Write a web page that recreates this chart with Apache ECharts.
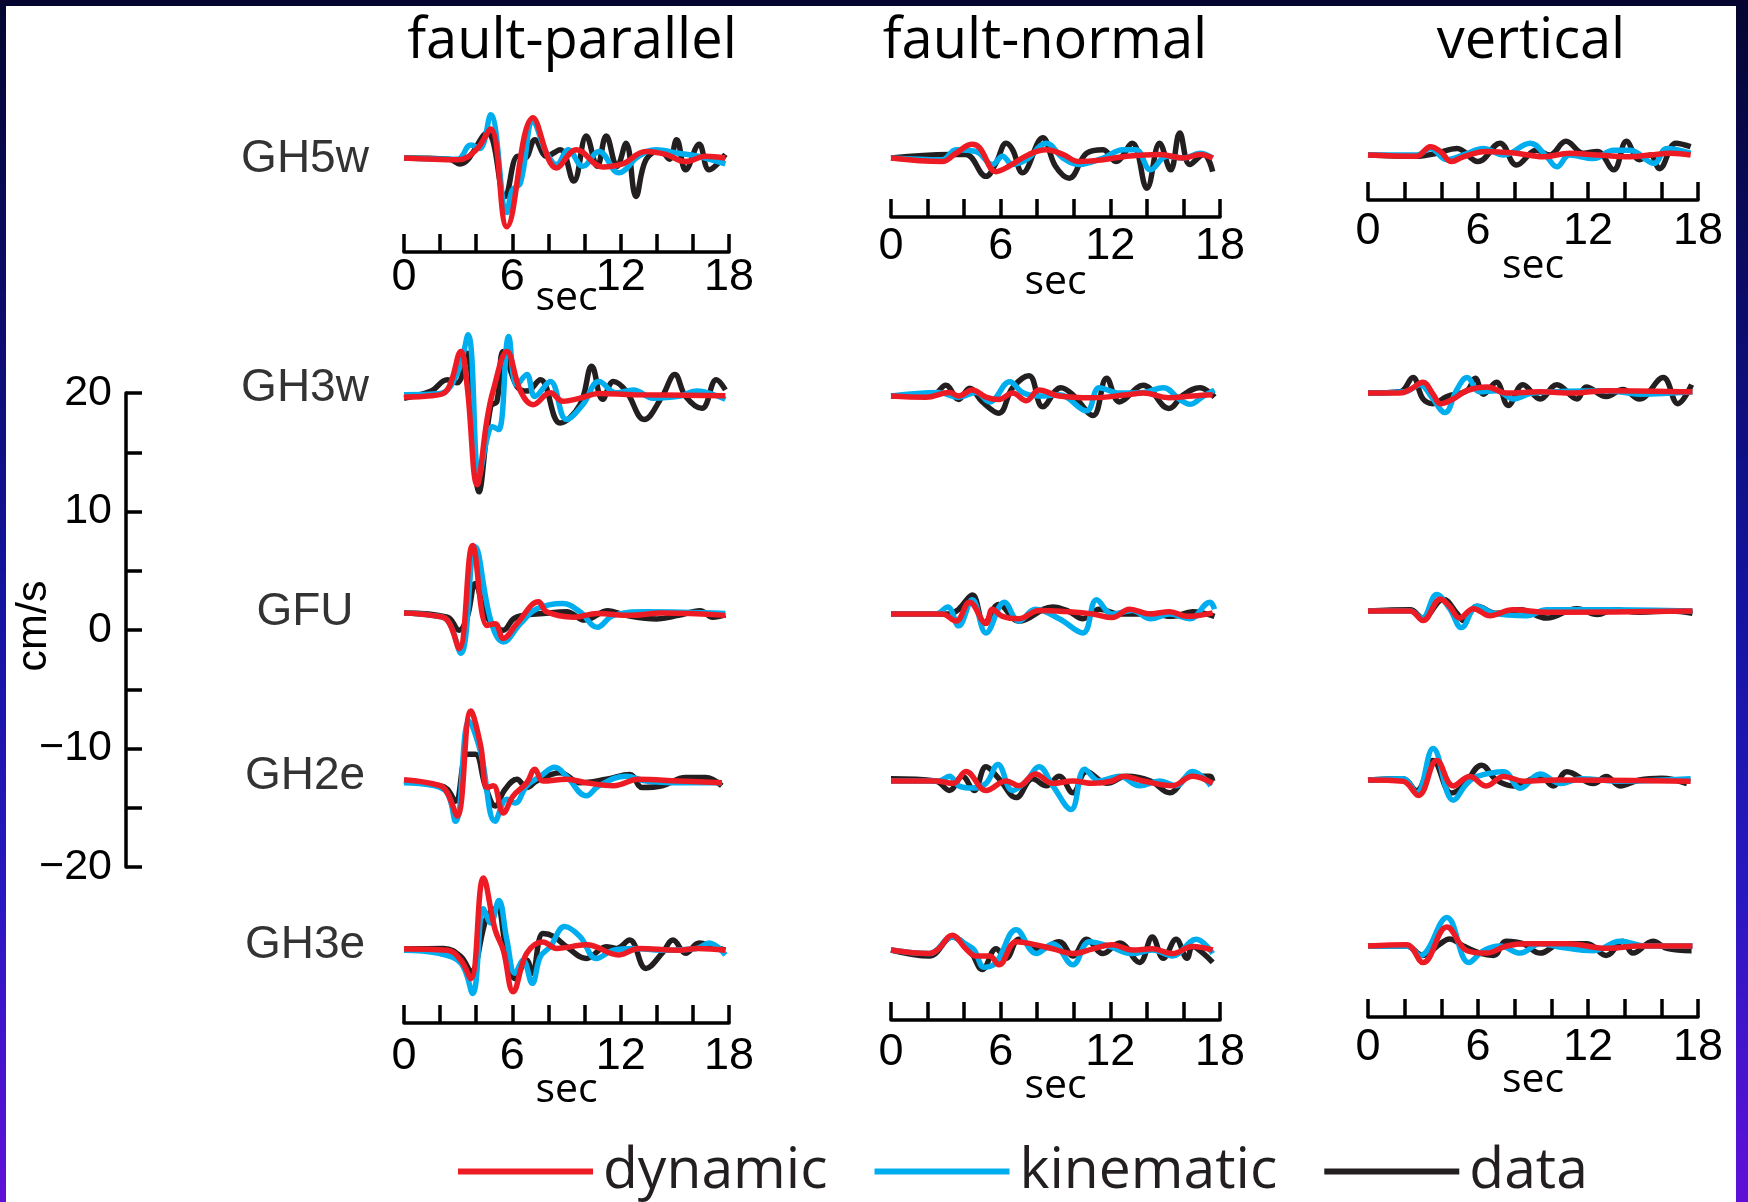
<!DOCTYPE html>
<html>
<head>
<meta charset="utf-8">
<script src="https://cdn.jsdelivr.net/npm/echarts@6/dist/echarts.min.js"></script>
<style>
html, body { margin: 0; padding: 0; }
#frame { position: relative; width: 1748px; height: 1202px; overflow: hidden;
  background: linear-gradient(180deg, #050530 0%, #0c0c6a 25%, #1414a0 50%, #2a18c0 75%, #6010d8 100%); }
#paper { position: absolute; left: 6px; top: 6px; width: 1730px; height: 1196px; background: #fff; }
#chart { position: absolute; left: 0; top: 0; width: 1748px; height: 1202px; }
</style>
</head>
<body>
<div id="frame"><div id="paper"></div><div id="chart"></div></div>
<script>
var stations = ['GH5w', 'GH3w', 'GFU', 'GH2e', 'GH3e']
var components = ['fault-parallel', 'fault-normal', 'vertical']
var secTicks = [0, 6, 12, 18]
var scaleTicks = [-20, -10, 0, 10, 20]

// velocity traces, [sec, cm/s] relative to each station's baseline
// fault-parallel
var fpGH5wDyn = [[0,0],[3,-0.15],[4,0.7],[4.8,2.45],[5.7,-5.8],[7.15,3.4],[8.45,-0.85],[9.55,0.7],[11,-0.75],[12.1,-0.5],[13.4,0.55],[14.5,0.3],[15.6,-0.3],[16.7,0.15],[17.8,0]]
var fpGH5wKin = [[0,0],[2.95,-0.1],[3.7,1.1],[4.2,0.8],[4.8,3.65],[5.7,-4.6],[6.0,-2.7],[6.45,-2.1],[7.15,3.1],[7.9,0.4],[8.45,-0.55],[9.1,0.7],[9.9,-0.7],[10.8,0.55],[11.9,-1.25],[13,0.15],[13.95,0.7],[15.2,0.4],[16.3,0.15],[17.8,-0.5]]
var fpGH5wDat = [[0,0],[2.5,-0.1],[3.1,-0.5],[4.6,2.1],[5.6,-3.25],[6.3,0.15],[6.7,0],[7.25,1.55],[7.9,0.15],[8.65,0.7],[9.4,-1.95],[10.1,1.85],[10.7,-0.7],[11.2,1.85],[11.8,-0.7],[12.3,1.25],[12.85,-3.25],[13.4,-0.15],[14.2,0.6],[14.7,-0.1],[15.1,1.55],[15.6,-1.0],[16.35,1.15],[16.9,-1.0],[17.8,0.3]]
var fpGH3wDyn = [[0,0],[1.5,0.1],[2.4,0.6],[3.15,3.85],[3.5,0.9],[4.05,-7.4],[4.6,-1.9],[4.95,0.6],[5.7,3.85],[6.45,0.5],[7.15,-0.65],[8.1,0.35],[8.8,-0.35],[9.75,-0.1],[10.8,0.3],[12.7,0.2],[17.8,0.1]]
var fpGH3wKin = [[0,0.2],[2,0.3],[2.95,2],[3.55,5.25],[4.15,-6.7],[4.6,-3.5],[4.9,-2.5],[5.25,-2.75],[5.8,5.1],[6.25,1.0],[6.8,1.9],[7.25,0.05],[8.1,1.3],[9,-1.9],[9.9,-0.65],[10.8,1.3],[11.75,0.35],[12.7,0.6],[13.8,-0.1],[15.2,0.05],[16.2,0.5],[17.8,-0.2]]
var fpGH3wDat = [[0,-0.1],[1.5,0.5],[2.4,1.45],[2.95,1.2],[3.5,3.7],[4.15,-8.0],[4.8,-0.8],[5.15,-0.35],[5.5,3.85],[6.25,0.9],[6.8,0.5],[7.55,1.45],[8.65,-2.2],[9.75,-0.65],[10.4,2.6],[11,-0.2],[11.6,1.3],[12.3,0.5],[13.3,-1.9],[14.3,0.05],[15,1.9],[15.6,0.05],[16.5,-0.95],[17.3,1.45],[17.8,0.6]]
var fpGFUDyn = [[0,0],[1.5,-0.2],[2.4,-0.6],[3.05,-3.0],[3.8,5.7],[4.6,-1.05],[5.05,-0.9],[5.5,-2.15],[6.25,-0.9],[7.45,0.95],[7.9,0.1],[9.4,-0.35],[10.7,-0.05],[12.5,-0.2],[14.3,0],[17.8,-0.2]]
var fpGFUKin = [[0,0],[1.5,-0.2],[2.4,-0.6],[3.15,-3.4],[3.95,5.6],[4.8,-0.6],[5.5,-2.45],[6.45,-0.9],[7.35,0.35],[8.8,0.8],[9.75,0.1],[10.7,-1.2],[11.6,-0.2],[13.4,0.1],[17.8,-0.05]]
var fpGFUDat = [[0,0],[2.4,-0.35],[3.05,-1.45],[3.5,-0.35],[3.95,2.5],[4.6,-0.35],[5.5,-1.45],[6.05,-0.5],[6.6,-0.2],[7.7,-0.05],[9,0.1],[10,-0.6],[11.3,0.2],[12.3,-0.2],[14,-0.5],[15.2,-0.2],[16.4,0.2],[17.1,-0.35],[17.8,-0.15]]
var fpGH2eDyn = [[0,0.1],[2,-0.4],[2.4,-1.0],[2.95,-2.95],[3.7,5.9],[4.25,2.95],[4.6,-0.55],[4.95,-0.4],[5.5,-2.7],[6.05,-1.25],[6.8,-0.15],[7.25,1.0],[7.7,0],[9,0.15],[10.1,-0.15],[11.6,-0.4],[13,0.15],[15.2,0],[17.6,-0.15]]
var fpGH2eKin = [[0,-0.15],[2.2,-0.7],[2.85,-3.4],[3.6,5.05],[4.25,2.4],[5.05,-3.4],[5.7,-1.55],[6.15,-1.85],[6.8,-0.4],[7.55,0.4],[8.35,1.15],[9,0.4],[10.1,-1.25],[10.8,-0.4],[12.3,0.4],[13.4,0],[15.2,-0.15],[17.6,-0.15]]
var fpGH2eDat = [[0,0],[2,-0.4],[2.4,-0.7],[2.85,-1.7],[3.5,2.25],[3.95,2.25],[4.5,-0.4],[5.05,-2.1],[5.6,-0.7],[6.25,0.15],[6.8,-0.55],[7.35,0],[8.65,0.7],[9.75,-0.15],[11.2,0.15],[12.5,0.55],[13.2,-0.55],[14.3,-0.4],[15.6,0.3],[16.7,0.3],[17.6,-0.4]]
var fpGH3eDyn = [[0,0],[2.4,-0.1],[3.15,-0.95],[3.7,-2.5],[4.4,6.0],[5.05,1.6],[5.5,-0.1],[6.05,-3.6],[6.8,-0.35],[7.7,0.6],[8.45,0.05],[10.1,0.35],[11.9,-0.5],[13,0.05],[15.2,-0.1],[16.3,0.05],[17.8,-0.1]]
var fpGH3eKin = [[0,-0.1],[1.85,-0.35],[3.15,-1.2],[3.8,-3.75],[4.4,3.4],[4.8,2.2],[5.25,4.1],[5.7,0.75],[6.15,-2.05],[6.6,-0.95],[7.1,-2.9],[7.55,-0.65],[8.1,0.2],[8.9,1.9],[9.75,1.05],[10.65,-0.8],[11.6,-0.1],[12.7,0.05],[14.3,-0.1],[16.2,0.05],[16.9,0.5],[17.8,-0.5]]
var fpGH3eDat = [[0,0],[2.2,0.05],[3.15,-0.65],[3.7,-1.9],[4.6,2.75],[5.15,3.45],[5.6,0.5],[6.15,-2.5],[6.8,-0.95],[7.1,-2.05],[7.7,1.3],[8.3,1.05],[9,0.2],[10.1,-0.8],[11.2,0.2],[11.75,0.05],[12.5,0.75],[13.4,-1.65],[14.3,-0.35],[14.9,0.75],[15.6,-0.35],[16.35,0.5],[17.1,0.2],[17.8,-0.1]]
// fault-normal
var fnGH5wDyn = [[0,0],[2.8,-0.3],[3.55,0.4],[4.45,1.15],[4.85,0.85],[5.75,-1.15],[6.45,-0.7],[7.55,0.3],[8.5,0.7],[9.4,0.3],[10.3,-0.3],[11.6,-0.15],[12.9,0.15],[14.7,0.3],[16,0],[16.9,0.3],[17.6,0]]
var fnGH5wKin = [[0,0],[2.8,-0.15],[3.55,0.7],[4.65,0.55],[5.55,-0.55],[6.1,0.15],[6.65,-0.55],[7.4,-0.15],[8.5,1.25],[9.4,0],[10.3,-0.55],[11.6,0],[12.7,0.7],[13.4,0.7],[14.2,-1.0],[15.1,0.15],[16,0],[16.9,0.4],[17.6,0]]
var fnGH5wDat = [[0,0],[3.2,0.3],[4.1,0.3],[5.2,-1.55],[5.75,-0.4],[6.3,1.25],[6.65,0.7],[7.2,-1.25],[8.3,1.7],[9,-0.7],[9.75,-1.7],[10.7,0.4],[11.6,0.7],[12.3,-0.3],[13.2,1.25],[14,-2.55],[14.7,1.25],[15.3,-1.0],[15.8,2.1],[16.35,-0.55],[17.1,0.3],[17.6,-1.15]]
var fnGH3wDyn = [[0,0],[1.9,-0.1],[3.2,0.3],[3.7,0],[4.45,0.5],[5.2,-0.1],[5.9,-0.3],[6.65,0.25],[7.4,-0.4],[8.1,0.5],[9.2,0],[11,-0.15],[12.9,0.1],[13.8,0.25],[15.2,-0.15],[16.5,0],[17.6,0.1]]
var fnGH3wKin = [[0,0],[2.6,0.3],[3.7,-0.1],[4.65,0.3],[5.4,-0.5],[6.5,1.2],[7.2,0.3],[8.1,0],[9.2,0.1],[10.7,-1.25],[11.4,0.7],[12.5,0.25],[13.8,0.3],[14.9,0.7],[15.8,-0.3],[16.35,-0.7],[17.1,0],[17.7,0.5]]
var fnGH3wDat = [[0,0],[2.3,0.1],[3,0.9],[3.7,-0.3],[4.3,0.65],[5,-0.5],[5.9,-1.45],[6.65,0.7],[7.55,1.7],[8.3,-0.9],[9.3,0.7],[9.95,0.1],[11.05,-1.65],[11.8,1.5],[12.5,-0.5],[13.8,0.9],[15.2,-1.05],[16,0.1],[16.9,0.7],[17.7,-0.1]]
var fnGFUDyn = [[0,0],[2.8,0],[3.55,-0.6],[4.3,1.0],[5.2,-0.8],[5.55,0.4],[6.1,-0.2],[7,-0.4],[8.1,0.3],[9.6,0.2],[11.05,0],[12.1,-0.3],[13.05,0.4],[14.2,0],[15.25,0.2],[16.2,-0.2],[17.6,0.1]]
var fnGFUKin = [[0,0],[2.45,0],[3.1,0.6],[3.7,-1.0],[4.45,1.2],[5.2,-1.6],[6.2,1.0],[7,-0.6],[7.9,0.4],[9.2,-0.4],[10.5,-1.6],[11.25,1.2],[12.1,0],[13.2,0.3],[14.2,-0.4],[15.25,0],[16.35,-0.4],[17.45,1.0],[17.7,0.4]]
var fnGFUDat = [[0,0],[3.2,0],[3.7,0.4],[4.45,1.6],[5.1,-0.8],[5.9,0.8],[7,-0.6],[8.85,0.6],[9.75,0.2],[10.5,-0.4],[11.4,0.4],[12.5,0],[14.3,0],[15.4,-0.2],[16.5,0.2],[17.7,-0.2]]
var fnGH2eDyn = [[0,0],[2.45,0],[3.4,-0.2],[4.1,0.8],[5.2,-0.8],[6.3,0],[7,-0.4],[7.9,0.6],[8.85,-0.2],[9.95,0],[11.05,-0.2],[12.1,0],[12.7,0.4],[13.8,0],[15.4,-0.4],[16.5,0.4],[17.6,-0.2]]
var fnGH2eKin = [[0,0],[2.6,0],[3.2,0.4],[3.7,-0.4],[4.45,-0.6],[5.2,-0.2],[5.85,1.4],[6.65,-0.8],[7.4,0],[8.1,1.2],[8.85,-0.4],[9.85,-2.4],[10.6,1.0],[11.4,0],[12.5,0.4],[13.6,-0.4],[14.7,0],[15.6,-0.4],[16.5,0.8],[17.5,-0.4]]
var fnGH2eDat = [[0,0.2],[2.45,0],[3.2,-0.8],[3.9,0.4],[4.55,-0.8],[5.2,1.2],[5.9,0.2],[6.85,-1.4],[7.75,0.2],[8.5,-0.4],[9.2,0.4],[9.95,-1.0],[10.7,0.8],[11.8,-0.2],[12.9,0.4],[14.2,0],[15.25,-1.0],[16.35,0.4],[17.45,0.4],[17.6,0]]
var fnGH3eDyn = [[0,0],[2.1,-0.3],[2.6,0.1],[3.35,1.25],[4.1,0.1],[4.65,-0.5],[5.4,-0.5],[5.9,-1.25],[6.85,0.7],[7.75,0.5],[8.85,0.1],[9.95,-0.3],[11.05,0.1],[12.1,0.45],[13.2,0],[14.3,0.1],[15.4,-0.3],[16.5,0.3],[17.6,0]]
var fnGH3eKin = [[0,0],[2.1,-0.3],[3.35,1.1],[4.1,0.5],[4.55,0],[5.1,-1.45],[5.75,-1.05],[6.85,1.7],[7.95,-0.3],[8.85,0.5],[9.95,-1.25],[10.85,0.7],[11.95,0.3],[13.2,-0.3],[14.3,0],[15.4,-0.5],[16.7,0.9],[17.6,-0.3]]
var fnGH3eDat = [[0,0],[2.1,-0.5],[3.35,1.1],[4.3,0],[5,-1.65],[5.75,0.1],[6.3,-0.7],[7,0.9],[8.1,0],[9.2,0.7],[9.95,-0.5],[10.7,0.9],[11.6,-0.3],[12.5,0.6],[13.6,-1.05],[14.3,1.1],[14.9,-0.7],[15.6,0.9],[16.2,-0.7],[16.5,0.3],[17.1,-0.3],[17.6,-1.05]]
// vertical
var vGH5wDyn = [[0,0],[2.65,-0.1],[3.4,0.7],[3.95,0.3],[4.55,-0.55],[5.2,-0.15],[6.45,0.3],[8.1,0.15],[9.55,-0.15],[11,0.15],[12.5,0],[14.3,-0.15],[15.4,0],[16.5,0.15],[17.6,0]]
var vGH5wKin = [[0,0],[2.65,0],[3.4,0.55],[4.3,-0.4],[5.2,0],[6.3,0.55],[7.4,0],[8.85,1.0],[9.75,-0.15],[10.3,-1.0],[11,0],[12.3,-0.3],[13.4,0.4],[14.3,0.4],[15.6,-0.7],[16.3,0.55],[17.6,0.15]]
var vGH5wDat = [[0,0],[2.8,-0.1],[3.75,0.15],[4.85,0.55],[6,-0.55],[7.2,1.0],[8.1,-0.85],[9.2,0.4],[9.9,0],[10.8,1.15],[11.75,0.15],[12.5,0.3],[13.4,-1.25],[14.1,1.15],[14.8,-0.4],[15.4,0],[15.9,-1.15],[16.8,1.0],[17.6,0.7]]
var vGH3wDyn = [[0,0],[1.75,0],[2.3,0.3],[3,0.9],[3.55,-0.1],[3.95,-0.9],[4.65,-0.5],[5.4,0.2],[6.5,0.5],[7.55,0],[9.4,0.1],[11.2,0],[13,0.2],[17.7,0.1]]
var vGH3wKin = [[0,0],[2,0.1],[2.85,0.7],[3.45,-0.3],[4.2,-1.65],[4.85,0.3],[5.4,1.3],[6.1,0.1],[7,0.2],[7.95,-0.5],[9,0],[13,0.2],[14.8,-0.1],[17.7,0.1]]
var vGH3wDat = [[0,0],[1.75,0.1],[2.45,1.3],[3,-0.5],[3.55,-0.9],[4.3,-0.3],[5.4,0.2],[5.85,1.25],[6.3,-0.1],[7,0.9],[7.65,-1.05],[8.45,0.7],[9.4,-0.5],[10.3,0.7],[11.4,-0.5],[11.9,0.5],[13,-0.3],[13.9,0.3],[14.8,-0.5],[16.1,1.3],[16.9,-0.9],[17.65,0.7]]
var vGFUDyn = [[0,0],[2.3,0],[3,-0.8],[3.95,1.0],[4.45,0.4],[5,-0.6],[5.75,0.2],[6.65,-0.4],[7.9,0.1],[9.75,-0.1],[17.7,0]]
var vGFUKin = [[0,0],[2.3,0],[2.95,-0.6],[3.75,1.4],[4.45,0.2],[5.1,-1.4],[5.95,0.4],[6.85,-0.2],[8.65,-0.4],[9.75,0.1],[13,0.1],[17.7,0]]
var vGFUDat = [[0,0],[2.3,0.1],[3,-0.6],[4.1,1.0],[4.85,-0.2],[5.2,-0.8],[5.95,0.4],[7,-0.2],[8.3,0.1],[9.75,-0.6],[11.4,0.2],[12.5,-0.3],[13.4,0.1],[14.8,-0.1],[16.5,0],[17.7,-0.2]]
var vGH2eDyn = [[0,0],[1.9,-0.1],[2.75,-1.3],[3.75,1.65],[4.65,-0.5],[5.55,0.3],[6.45,-0.5],[7.4,0.3],[8.5,-0.1],[10.3,0],[17.6,-0.1]]
var vGH2eKin = [[0,0],[1.9,0.1],[2.65,-1.1],[3.55,2.65],[4.65,-1.7],[5.4,-0.3],[5.95,0.3],[7.4,0.7],[8.3,-0.7],[9.4,0.5],[10.5,-0.3],[11.6,0.1],[13.8,-0.1],[17.6,0.1]]
var vGH2eDat = [[0,0],[1.9,0.1],[2.65,-0.9],[3.55,1.65],[4.55,-1.1],[5.2,-0.5],[6.2,1.25],[7,0],[7.95,-0.5],[9.4,0.3],[10.1,-0.5],[10.85,0.7],[12.3,-0.3],[13,0.3],[13.75,-0.5],[14.8,0],[16,0.15],[17.4,-0.3]]
var vGH3eDyn = [[0,0],[2.1,0.1],[3,-1.4],[4.3,1.6],[5.4,-0.4],[6.45,-0.6],[7.55,0],[8.65,0.2],[10.85,0.2],[13,-0.2],[14.8,0],[17.7,0]]
var vGH3eKin = [[0,0],[2.1,0],[2.85,-0.8],[4.3,2.4],[5.5,-1.4],[6.3,-0.4],[7.2,0],[8.3,-0.6],[9.4,0.2],[10.5,-0.1],[12.3,-0.4],[13.75,0.4],[15.2,0],[17.7,0]]
var vGH3eDat = [[0,0],[2.1,0],[3,-0.8],[3.95,0.2],[4.45,0.6],[5.2,0],[6.1,-0.6],[6.85,-0.8],[7.55,0.4],[8.45,0.2],[9.4,-0.6],[10.5,0.2],[11.95,0.2],[13,-0.8],[13.9,0.4],[14.45,-0.6],[15.55,0.4],[16.3,-0.2],[17.65,-0.4]]

// [dynamic, kinematic, data] per component and station
var traces = {
    'fault-parallel': { GH5w: [fpGH5wDyn, fpGH5wKin, fpGH5wDat], GH3w: [fpGH3wDyn, fpGH3wKin, fpGH3wDat], GFU: [fpGFUDyn, fpGFUKin, fpGFUDat], GH2e: [fpGH2eDyn, fpGH2eKin, fpGH2eDat], GH3e: [fpGH3eDyn, fpGH3eKin, fpGH3eDat] },
    'fault-normal': { GH5w: [fnGH5wDyn, fnGH5wKin, fnGH5wDat], GH3w: [fnGH3wDyn, fnGH3wKin, fnGH3wDat], GFU: [fnGFUDyn, fnGFUKin, fnGFUDat], GH2e: [fnGH2eDyn, fnGH2eKin, fnGH2eDat], GH3e: [fnGH3eDyn, fnGH3eKin, fnGH3eDat] },
    'vertical': { GH5w: [vGH5wDyn, vGH5wKin, vGH5wDat], GH3w: [vGH3wDyn, vGH3wKin, vGH3wDat], GFU: [vGFUDyn, vGFUKin, vGFUDat], GH2e: [vGH2eDyn, vGH2eKin, vGH2eDat], GH3e: [vGH3eDyn, vGH3eKin, vGH3eDat] }
}

// layout (px)
var pxPerUnit = 11.85
var colX = [[404, 729], [891, 1220], [1368, 1698]]
var rowBase = [[158, 397, 613, 781, 949], [158, 396, 614, 781, 950], [155, 393, 611, 780, 946]]
var topAxisY = [252, 217, 200]
var botAxisY = [1023, 1020, 1017]
var topLabelMargin = [3, 7, 9]
var botLabelMargin = [11, 10, 8]
var topNameGap = [26, 45, 46]
var botNameGap = [47, 46, 43]
var titleX = [572, 1045, 1531]
var stationY = [159, 388, 612, 776, 945]

var ink = '#000'
var helv = 'Liberation Sans, Arial, sans-serif'
var myriad = 'Open Sans, Noto Sans, sans-serif'
var seriesStyle = [
    { name: 'data', color: '#231f20', idx: 2 },
    { name: 'kinematic', color: '#00aeef', idx: 1 },
    { name: 'dynamic', color: '#ed1c24', idx: 0 }
]

var grids = [], xAxes = [], yAxes = [], series = []
components.forEach(function (comp, c) {
    stations.forEach(function (st, r) {
        var i = grids.length
        var base = rowBase[c][r]
        var top = base - 9 * pxPerUnit
        var bottom
        if (r === 0) bottom = topAxisY[c]
        else if (r === stations.length - 1) bottom = botAxisY[c]
        else bottom = base + 9 * pxPerUnit
        var axisRow = r === 0 || r === stations.length - 1
        grids.push({ left: colX[c][0], top: top, width: colX[c][1] - colX[c][0], height: bottom - top })
        xAxes.push({
            gridIndex: i, type: 'value', min: 0, max: 18, interval: 2,
            show: axisRow, position: 'bottom',
            name: 'sec', nameLocation: 'middle',
            nameGap: r === 0 ? topNameGap[c] : botNameGap[c],
            nameMoveOverlap: false,
            nameTextStyle: { fontFamily: myriad, fontSize: 41, color: ink },
            axisLine: { show: true, onZero: false, lineStyle: { color: ink, width: 3.5 } },
            axisTick: { show: true, inside: true, length: 18, lineStyle: { color: ink, width: 3.5 } },
            axisLabel: {
                margin: r === 0 ? topLabelMargin[c] : botLabelMargin[c],
                fontFamily: helv, fontSize: 45, color: ink,
                showMinLabel: true, showMaxLabel: true,
                formatter: function (v) { return secTicks.indexOf(v) >= 0 ? String(v) : '' }
            },
            splitLine: { show: false }
        })
        yAxes.push({
            gridIndex: i, type: 'value', show: false,
            min: -(bottom - base) / pxPerUnit, max: 9,
            splitLine: { show: false }
        })
        seriesStyle.forEach(function (s) {
            series.push({
                type: 'line', name: s.name, xAxisIndex: i, yAxisIndex: i,
                data: traces[comp][st][s.idx],
                color: s.color, showSymbol: false, smooth: 0.4, clip: false,
                lineStyle: { width: 5.5, color: s.color },
                silent: true
            })
        })
    })
})

// amplitude scale bar
var sb = grids.length
grids.push({ left: 126, top: 393, width: 1, height: 474 })
xAxes.push({ gridIndex: sb, type: 'value', show: false })
yAxes.push({
    gridIndex: sb, type: 'value', min: -20, max: 20, interval: 5,
    name: 'cm/s', nameLocation: 'middle', nameRotate: 90, nameGap: 70, nameMoveOverlap: false,
    nameTextStyle: { fontFamily: helv, fontSize: 43, color: ink, padding: [0, 0, 0, 8] },
    axisLine: { show: true, onZero: false, lineStyle: { color: ink, width: 3.5 } },
    axisTick: { show: true, inside: true, length: 16, lineStyle: { color: ink, width: 3.5 } },
    axisLabel: {
        margin: 14, fontFamily: helv, fontSize: 43, color: ink,
        formatter: function (v) {
            if (scaleTicks.indexOf(v) < 0) return ''
            return v < 0 ? '\u2212' + Math.abs(v) : String(v)
        }
    },
    splitLine: { show: false }
})

var texts = []
components.forEach(function (comp, c) {
    texts.push({ type: 'text', x: titleX[c], y: 42, style: { text: comp, font: '56px ' + myriad, fill: ink, align: 'center', verticalAlign: 'middle' } })
})
stations.forEach(function (st, r) {
    texts.push({ type: 'text', x: 305, y: stationY[r], style: { text: st, font: '46px ' + helv, fill: '#333', align: 'center', verticalAlign: 'middle' } })
})

var chart = echarts.init(document.getElementById('chart'))
chart.setOption({
    animation: false,
    backgroundColor: 'transparent',
    grid: grids,
    xAxis: xAxes,
    yAxis: yAxes,
    series: series,
    legend: {
        data: ['dynamic', 'kinematic', 'data'],
        left: 458, top: 1143, padding: 0,
        icon: 'rect', itemWidth: 135, itemHeight: 6, itemGap: 47,
        textStyle: { fontFamily: myriad, fontSize: 57, color: '#231f20', padding: [0, 0, 0, 5] },
        selectedMode: false
    },
    graphic: texts
})
</script>
</body>
</html>
